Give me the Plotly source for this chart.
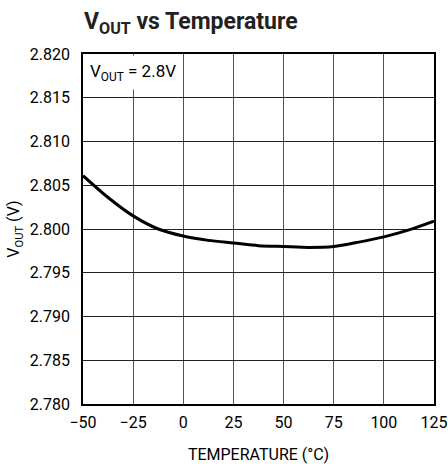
import plotly.graph_objects as go

temperature = [-50, -37.5, -25, -12.5, 0, 12.5, 25, 37.5, 50, 62.5, 75, 87.5, 100, 112.5, 125]
vout = [2.8061, 2.8036, 2.8015, 2.8000, 2.7992, 2.7987, 2.7984, 2.7981, 2.7980, 2.7979, 2.7980, 2.7985, 2.7991, 2.7999, 2.8009]

x_ticks = [-50, -25, 0, 25, 50, 75, 100, 125]
y_ticks = [2.780, 2.785, 2.790, 2.795, 2.800, 2.805, 2.810, 2.815, 2.820]

FONT = "Roboto, Liberation Sans, Arial, sans-serif"

fig = go.Figure()
fig.add_trace(go.Scatter(x=temperature, y=vout, mode="lines",
                         line=dict(color="black", width=3, shape="spline", smoothing=0.8),
                         showlegend=False, hoverinfo="skip"))

fig.update_layout(
    width=448, height=464,
    margin=dict(l=83, r=14, t=54, b=60),
    paper_bgcolor="white", plot_bgcolor="white",
    font=dict(family=FONT, size=16, color="black"),
    title=dict(text="<b>V<sub>OUT</sub> vs Temperature</b>", x=84/448, xanchor="left",
               y=1 - 29/464, yanchor="bottom", font=dict(family=FONT, size=23, color="#222")),
    xaxis=dict(range=[-50, 125], tickvals=x_ticks, ticks="", showgrid=True, automargin=False,
               gridcolor="#555", gridwidth=1, showline=True, linecolor="black", linewidth=1.5,
               mirror=True, zeroline=False, ticklabelstandoff=3, ticklabeloverflow="allow",
               title=dict(text="TEMPERATURE (°C)", standoff=18, font=dict(size=16))),
    yaxis=dict(range=[2.780, 2.820], tickvals=y_ticks, tickformat=".3f", ticks="",
               showgrid=True, gridcolor="#222", gridwidth=1, showline=True, linecolor="black",
               linewidth=1.5, mirror=True, zeroline=False, automargin=False, ticklabelstandoff=8,
               ticklabeloverflow="allow",
               title=dict(text="V<sub>OUT</sub> (V)", standoff=6, font=dict(size=16))),
)

fig.add_annotation(x=0, y=1, xref="paper", yref="paper", xanchor="left", yanchor="top",
                   text="V<sub>OUT</sub> = 2.8V", showarrow=False,
                   bgcolor="white", borderpad=5, font=dict(size=17),
                   xshift=1, yshift=-1)

fig.write_html("out.html", post_script="document.body.style.margin='0';",
               config={"displayModeBar": False})
